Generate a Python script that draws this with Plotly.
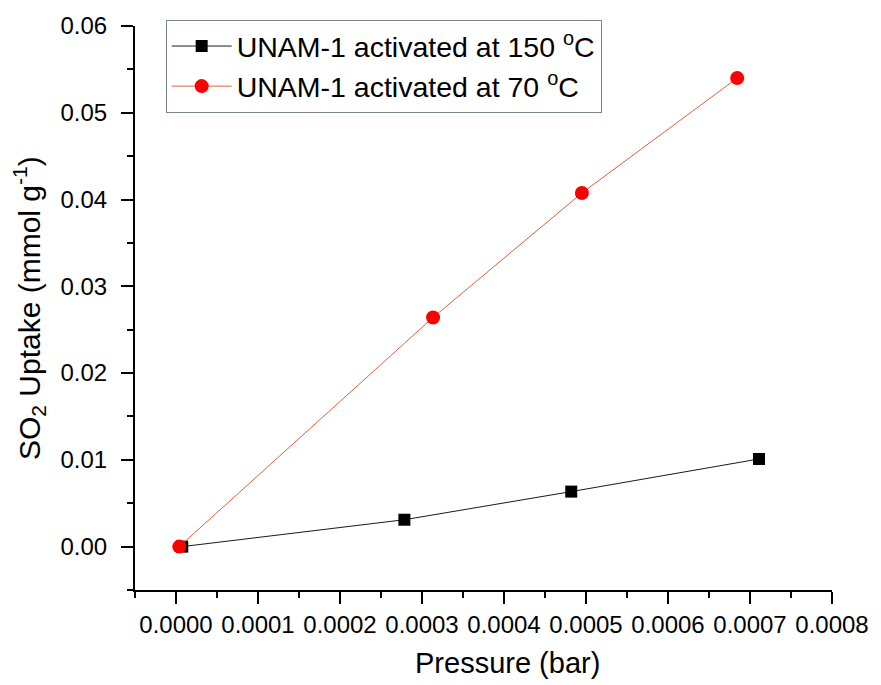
import plotly.graph_objects as go

# SO2 uptake isotherms for UNAM-1 at two activation temperatures
pressure_150 = [0.0000076, 0.0002785, 0.000482, 0.000711]
uptake_150 = [0.0, 0.0031, 0.00634, 0.0101]

pressure_70 = [0.000004, 0.0003135, 0.000495, 0.0006844]
uptake_70 = [0.0, 0.02641, 0.04075, 0.0540]

x_ticks = [0.0, 0.0001, 0.0002, 0.0003, 0.0004, 0.0005, 0.0006, 0.0007, 0.0008]
x_tick_text = ["0.0000", "0.0001", "0.0002", "0.0003", "0.0004",
               "0.0005", "0.0006", "0.0007", "0.0008"]
y_ticks = [0.0, 0.01, 0.02, 0.03, 0.04, 0.05, 0.06]
y_tick_text = ["0.00", "0.01", "0.02", "0.03", "0.04", "0.05", "0.06"]

FONT = "Arial, Liberation Sans, sans-serif"

fig = go.Figure()
fig.add_trace(go.Scatter(
    x=pressure_150, y=uptake_150, mode="lines+markers",
    name="UNAM-1 activated at 150 <sup>o</sup>C",
    line=dict(color="#1a1a1a", width=1),
    marker=dict(symbol="square", size=12, color="black"),
))
fig.add_trace(go.Scatter(
    x=pressure_70, y=uptake_70, mode="lines+markers",
    name="UNAM-1 activated at 70 <sup>o</sup>C",
    line=dict(color="#e0603a", width=1),
    marker=dict(symbol="circle", size=14, color="#ff0000"),
))

fig.update_layout(
    width=881, height=685,
    margin=dict(l=135, r=43, t=24, b=95),
    paper_bgcolor="white", plot_bgcolor="white",
    font=dict(family=FONT, color="black"),
    showlegend=True,
    legend=dict(
        x=0.044, y=1.0106, xanchor="left", yanchor="top",
        bordercolor="#7a8a7a", borderwidth=1, bgcolor="white",
        font=dict(size=28.5, family=FONT),
        tracegroupgap=0, itemwidth=60,
    ),
    annotations=[
        dict(text="Pressure (bar)", xref="paper", yref="paper",
             x=0.534, y=-0.129, xanchor="center", yanchor="middle",
             showarrow=False, font=dict(size=29, family=FONT)),
        dict(text="SO<sub>2</sub> Uptake (mmol g<sup>-1</sup>)",
             xref="paper", yref="paper", x=-0.152, y=0.50,
             xanchor="center", yanchor="middle", textangle=-90,
             showarrow=False, font=dict(size=30, family=FONT)),
    ],
)

fig.update_xaxes(
    range=[-0.00005, 0.0008],
    tickmode="array", tickvals=x_ticks, ticktext=x_tick_text,
    ticks="outside", ticklen=12, tickwidth=2, tickcolor="black",
    showline=True, linecolor="black", linewidth=2,
    showgrid=False, zeroline=False,
    tickfont=dict(size=24, family=FONT),
    minor=dict(tickvals=[x + 0.00005 for x in x_ticks[:-1]] + [-0.00005],
               ticks="outside", ticklen=6, tickwidth=2, tickcolor="black",
               showgrid=False),
)
fig.update_yaxes(
    range=[-0.005, 0.06],
    tickmode="array", tickvals=y_ticks, ticktext=y_tick_text,
    ticks="outside", ticklen=12, tickwidth=2, tickcolor="black",
    showline=True, linecolor="black", linewidth=2,
    showgrid=False, zeroline=False,
    ticklabelstandoff=9,
    tickfont=dict(size=24, family=FONT),
    minor=dict(tickvals=[y + 0.005 for y in y_ticks[:-1]] + [-0.005],
               ticks="outside", ticklen=6, tickwidth=2, tickcolor="black",
               showgrid=False),
)

fig.write_html("out.html")
